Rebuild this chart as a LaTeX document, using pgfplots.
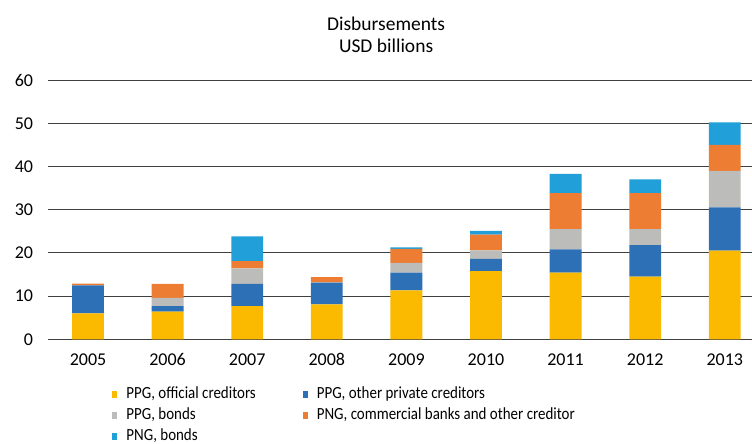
\documentclass[border=0pt]{standalone}
\usepackage{pgfplots}
\pgfplotsset{compat=1.18}
\usepackage{fontspec}
\setmainfont{Carlito}
\newfontfamily\legfont{Carlito}[FakeStretch=0.88]
\definecolor{cOff}{HTML}{FBB900}
\definecolor{cPriv}{HTML}{2E70B6}
\definecolor{cBond}{HTML}{BCBCBA}
\definecolor{cComm}{HTML}{ED7D32}
\definecolor{cPbond}{HTML}{209FD9}
\begin{document}
\begin{tikzpicture}
\begin{axis}[
  at={(0,0)}, anchor=south west,
  scale only axis,
  width=703.8bp, height=259.3bp,
  xmin=-0.5, xmax=8.342,
  ymin=0, ymax=60,
  ytick={0,10,...,60},
  xtick={0,...,8},
  xticklabels={2005,2006,2007,2008,2009,2010,2011,2012,2013},
  /pgf/number format/assume math mode=true,
  ybar stacked, bar width=0.4,
  axis line style={draw=none},
  major tick length=0pt,
  ymajorgrids, grid style={black!75, line width=0.9bp},
  tick label style={font=\fontsize{18bp}{20bp}\selectfont},
  yticklabel style={anchor=east, inner sep=0pt, xshift=-15bp},
  xticklabel style={anchor=north, inner sep=0pt, yshift=-14bp},
  title={Disbursements\\USD billions},
  title style={at={(0.5,1)}, anchor=south, inner sep=0pt, yshift=21bp, xshift=-14bp,
    align=center, font=\fontsize{19.5bp}{22bp}\selectfont},
  legend columns=2,
  legend style={draw=none, fill=none, at={(0.091,-0.18)}, anchor=north west,
    inner sep=0pt, row sep=5bp,
    font=\legfont\fontsize{17bp}{20bp}\selectfont,
    nodes={inner sep=0pt, text height=12bp, text depth=4bp},
    cells={anchor=west},
    /tikz/column 1/.style={column sep=9bp},
    /tikz/column 3/.style={column sep=9bp},
    /tikz/column 2/.style={column sep=47bp}},
  legend image code/.code={\fill[#1] (0bp,-3.5bp) rectangle (5bp,3.5bp);},
]
\addplot[fill=cOff, draw=none] coordinates {(0,6.0) (1,6.4) (2,7.7) (3,8.1) (4,11.3) (5,15.8) (6,15.4) (7,14.5) (8,20.5)};
\addplot[fill=cPriv, draw=none] coordinates {(0,6.5) (1,1.3) (2,5.1) (3,5.0) (4,4.1) (5,2.8) (6,5.4) (7,7.3) (8,10.0)};
\addplot[fill=cBond, draw=none] coordinates {(0,0) (1,1.9) (2,3.6) (3,0.1) (4,2.3) (5,2.0) (6,4.7) (7,3.7) (8,8.5)};
\addplot[fill=cComm, draw=none] coordinates {(0,0.4) (1,3.2) (2,1.7) (3,1.2) (4,3.2) (5,3.6) (6,8.3) (7,8.3) (8,6.0)};
\addplot[fill=cPbond, draw=none] coordinates {(0,0) (1,0) (2,5.7) (3,0) (4,0.4) (5,0.9) (6,4.5) (7,3.2) (8,5.2)};
\legend{PPG{,} official creditors, PPG{,} other private creditors, PPG{,} bonds, PNG{,} commercial banks and other creditor, PNG{,} bonds}
\end{axis}
\pgfresetboundingbox
\path[use as bounding box] (-48.2bp,-104.7bp) rectangle (703.8bp,339.3bp);
\end{tikzpicture}
\end{document}
